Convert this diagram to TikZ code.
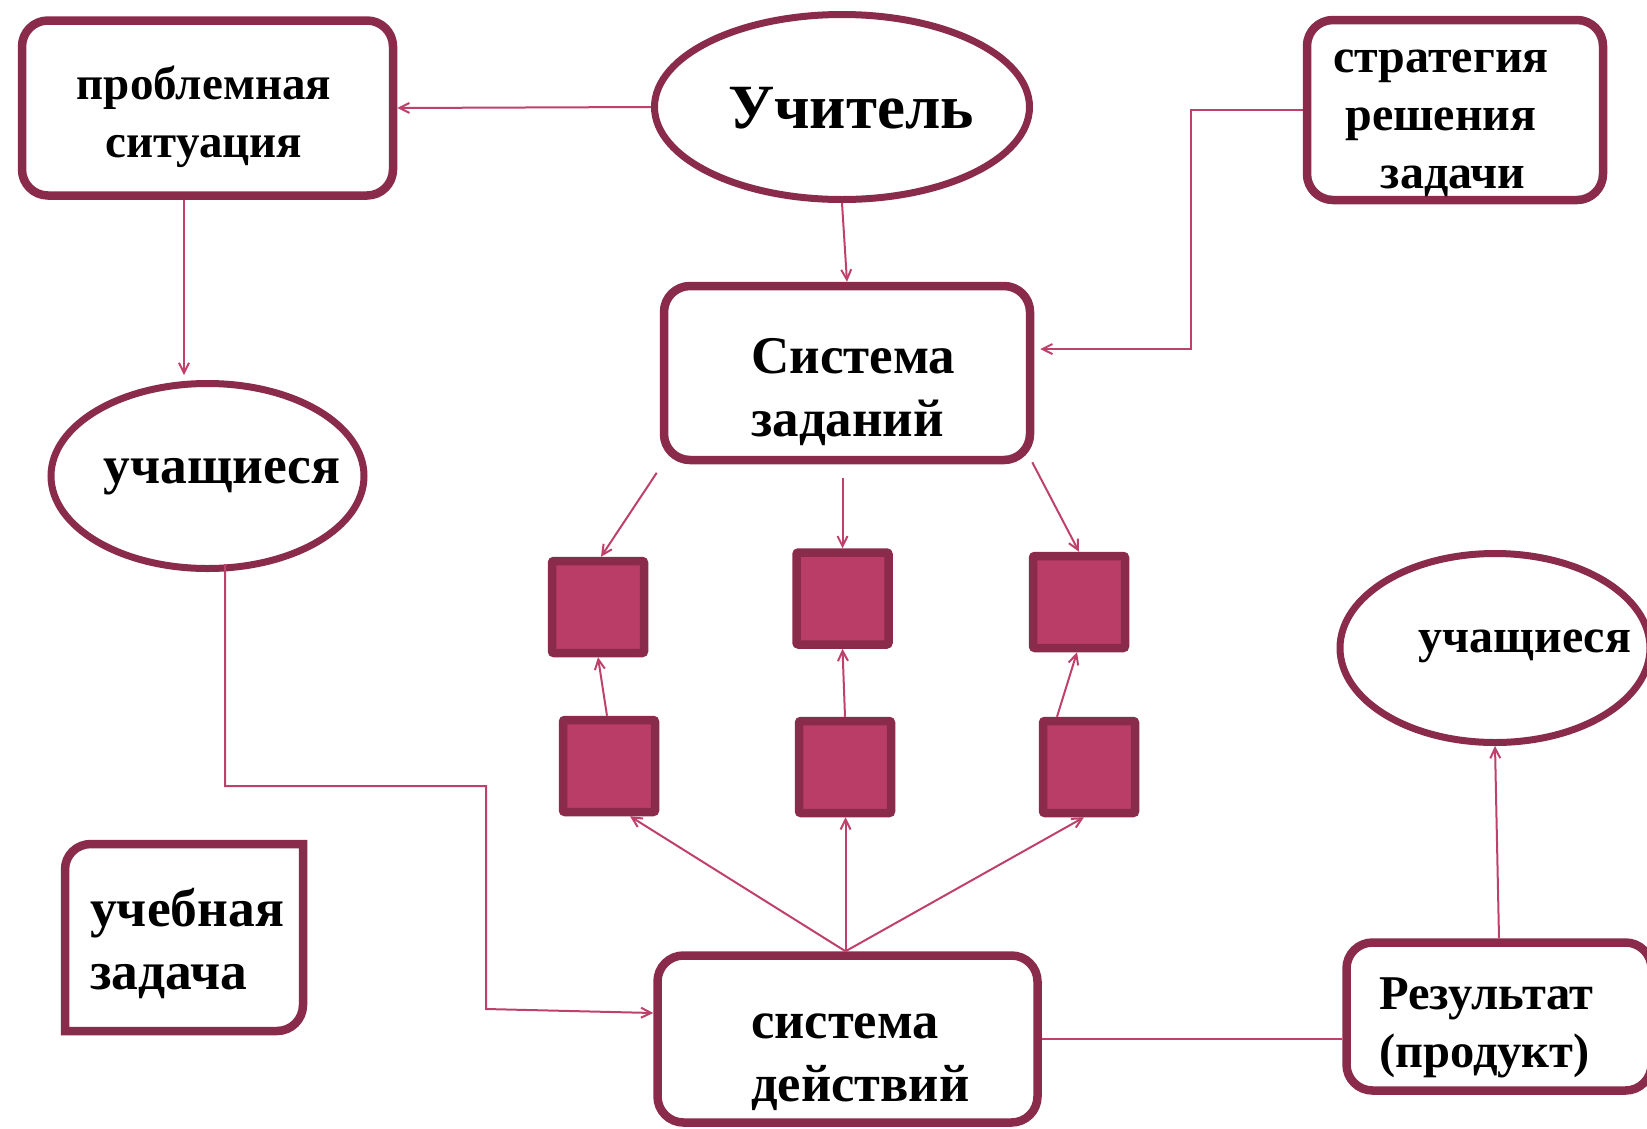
\documentclass[tikz,border=0pt]{standalone}
\usepackage{fontspec}
\setmainfont{Liberation Serif}
\usetikzlibrary{arrows.meta,calc,shapes.geometric}
\definecolor{bord}{HTML}{8A2B4C}
\definecolor{sqfill}{HTML}{B93D66}
\definecolor{connc}{HTML}{C0406C}
\tikzset{
 rbox/.style={draw=bord, line width=8.5pt, rounded corners=26pt, fill=white, inner sep=0pt},
 oval/.style={draw=bord, line width=7pt, ellipse, fill=white, inner sep=0pt},
 sq/.style={draw=bord, fill=sqfill, line width=8.5pt, minimum width=92pt, minimum height=92pt, inner sep=0pt, rounded corners=2pt},
 conn/.style={draw=connc, line width=2pt},
 arr/.style={conn, -{Straight Barb[length=10pt,width=10pt]}},
 lbl/.style={font=\bfseries, inner sep=0pt, text=black},
}
\begin{document}
\begin{tikzpicture}[x=1pt,y=-1pt]
\useasboundingbox (0,0) rectangle (1647,1128);
% boxes
\node[rbox, minimum width=371pt, minimum height=175pt] (prob) at (207.5,108) {};
\node[oval, minimum width=375pt, minimum height=185pt] (uch) at (842,107) {};
\node[rbox, minimum width=296pt, minimum height=180pt] (strat) at (1455,110) {};
\node[rbox, minimum width=366pt, minimum height=174pt] (sis) at (847,373) {};
\node[oval, minimum width=313pt, minimum height=185pt] (ucL) at (207.5,476) {};
\node[oval, minimum width=310pt, minimum height=189pt] (ucR) at (1495,648) {};
\node[rbox, minimum width=380pt, minimum height=167pt] (sd) at (847.5,1039) {};
\node[rbox, minimum width=305pt, minimum height=148pt] (res) at (1499,1016.5) {};
% squares
\node[sq] (tl) at (598,607) {};
\node[sq] (tm) at (842.5,598.5) {};
\node[sq] (tr) at (1079,602) {};
\node[sq] (bl) at (609,766) {};
\node[sq] (bm) at (845,767) {};
\node[sq] (br) at (1089,767) {};
% учебная задача shape
\draw[draw=bord, line width=8.5pt, fill=white]
 (65,1031) -- (65,869.5) .. controls (65,855.1) and (76.6,844) .. (91,844)
 -- (303,844) -- (303,1005) .. controls (303,1019.4) and (291.4,1031) .. (277,1031) -- cycle;
% texts
\node[lbl, align=center, font=\bfseries\fontsize{47}{58}\selectfont] (tprob) at (204,117) {проблемная\\ситуация};
\node[lbl, font=\bfseries\fontsize{63}{70}\selectfont] (tuch) at (851,108) {Учитель};
\node[lbl, align=center, font=\bfseries\fontsize{48}{58}\selectfont] (tstrat) at (1441,123) {стратегия\\решения\\\hspace*{24pt}задачи};
\node[lbl, anchor=west, align=left, font=\bfseries\fontsize{53}{63}\selectfont] (tsis) at (751,392) {Система\\заданий};
\node[lbl, font=\bfseries\fontsize{53.5}{63}\selectfont] (tucL) at (222,476.5) {учащиеся};
\node[lbl, font=\bfseries\fontsize{48}{58}\selectfont] (tucR) at (1525,646) {учащиеся};
\node[lbl, anchor=west, align=left, font=\bfseries\fontsize{53.5}{63}\selectfont] (tuz) at (90,943) {учебная\\задача};
\node[lbl, anchor=west, align=left, font=\bfseries\fontsize{52.5}{63}\selectfont] (tsd) at (751,1062) {система\\действий};
\node[lbl, anchor=west, align=left, font=\bfseries\fontsize{48.5}{58}\selectfont] (tres) at (1379,1028) {Результат\\(продукт)};
% connectors
\draw[arr] (uch.west) -- (prob.east);
\draw[arr] (uch.south) -- (sis.north);
\draw[arr] (strat.west) -- ++(-112,0) |- ([xshift=6pt,yshift=24pt]sis.east);
\draw[arr] ([xshift=-23.5pt]prob.south) -- ([xshift=-23.5pt,yshift=5pt]ucL.north);
\draw[arr] ([xshift=17.5pt,yshift=8pt]ucL.south) |- (486,786) -- (486,1009) -- ([yshift=26pt]sd.west);
\draw[arr] ([xshift=-3pt,yshift=-8.5pt]sis.south west) -- ([xshift=3pt]tl.north);
\draw[arr] ([xshift=-4.5pt,yshift=-14pt]sis.south) -- (tm.north);
\draw[arr] ([xshift=-2pt,yshift=2pt]sis.south east) -- (tr.north);
\draw[arr] ([xshift=-2pt]bl.north) -- (tl.south);
\draw[arr] (bm.north) -- (tm.south);
\draw[arr] ([xshift=-32pt]br.north) -- ([xshift=-2pt]tr.south);
\coordinate (sdtop) at ([xshift=-2pt]sd.north);
\draw[arr] (sdtop) -- ([xshift=21pt]bl.south);
\draw[arr] (sdtop) -- ([xshift=0.5pt]bm.south);
\draw[arr] (sdtop) -- ([xshift=-5pt]br.south);
\draw[conn] (sd.east) -- (sd.east -| res.west);
\draw[arr] (res.north) -- (ucR.south);
\end{tikzpicture}
\end{document}
